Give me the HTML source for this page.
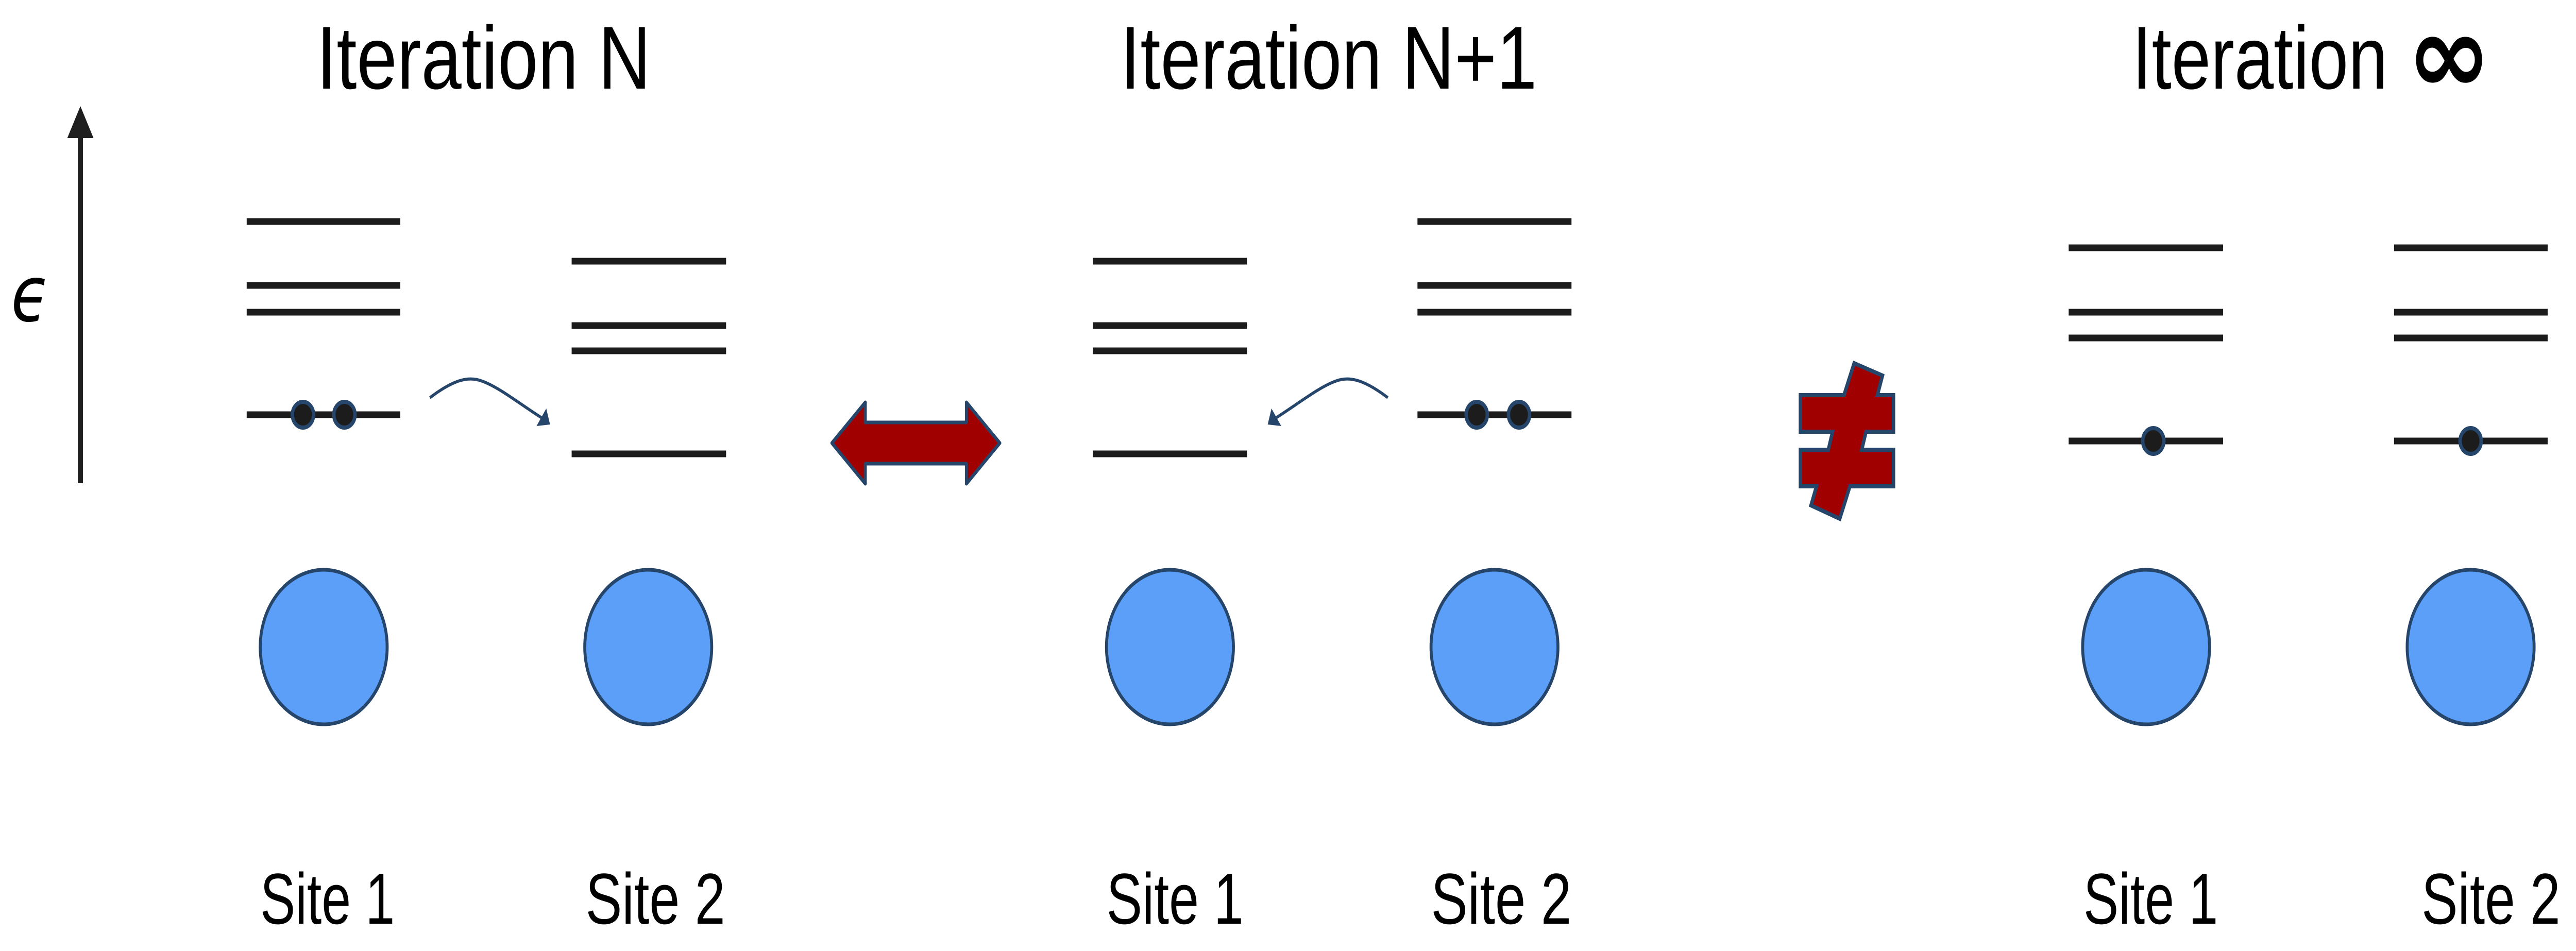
<!DOCTYPE html>
<html>
<head>
<meta charset="utf-8">
<style>
html,body{margin:0;padding:0;background:#fff;width:100%;height:100%;overflow:hidden;}
svg{display:block;width:100vw;height:100vh;}
</style>
</head>
<body>
<svg viewBox="0 0 6088 1846" preserveAspectRatio="none" xmlns="http://www.w3.org/2000/svg">
<rect width="6088" height="1846" fill="#fff"/>

<!-- Titles -->
<g font-family="Liberation Sans, sans-serif" font-size="173" fill="#000">
  <text x="1143" y="172" text-anchor="middle" textLength="790" lengthAdjust="spacingAndGlyphs">Iteration N</text>
  <text x="3140" y="172" text-anchor="middle" textLength="985" lengthAdjust="spacingAndGlyphs">Iteration N+1</text>
  <text x="5341" y="172" text-anchor="middle" textLength="604" lengthAdjust="spacingAndGlyphs">Iteration</text>
</g>
<text x="5788" y="180" text-anchor="middle" font-family="DejaVu Sans, sans-serif" font-weight="bold" font-size="215" textLength="200" lengthAdjust="spacingAndGlyphs" fill="#000">∞</text>

<!-- Energy axis -->
<line x1="190" y1="262" x2="190" y2="938" stroke="#1f1f1f" stroke-width="12"/>
<polygon points="190,206 159,268 221,268" fill="#1f1f1f"/>
<text x="26" y="623" font-family="DejaVu Sans, sans-serif" font-style="italic" font-size="150" fill="#000">ϵ</text>

<!-- Level lines -->
<g stroke="#1c1c1c" stroke-width="13">
  <line x1="583" y1="430" x2="946" y2="430"/>
  <line x1="583" y1="554" x2="946" y2="554"/>
  <line x1="583" y1="606" x2="946" y2="606"/>
  <line x1="583" y1="805" x2="946" y2="805"/>
  <line x1="1351" y1="507" x2="1716" y2="507"/>
  <line x1="1351" y1="632" x2="1716" y2="632"/>
  <line x1="1351" y1="681" x2="1716" y2="681"/>
  <line x1="1351" y1="881" x2="1716" y2="881"/>
  <line x1="2583" y1="507" x2="2947" y2="507"/>
  <line x1="2583" y1="632" x2="2947" y2="632"/>
  <line x1="2583" y1="681" x2="2947" y2="681"/>
  <line x1="2583" y1="881" x2="2947" y2="881"/>
  <line x1="3350" y1="430" x2="3714" y2="430"/>
  <line x1="3350" y1="554" x2="3714" y2="554"/>
  <line x1="3350" y1="606" x2="3714" y2="606"/>
  <line x1="3350" y1="805" x2="3714" y2="805"/>
  <line x1="4889" y1="481" x2="5254" y2="481"/>
  <line x1="4889" y1="606" x2="5254" y2="606"/>
  <line x1="4889" y1="656" x2="5254" y2="656"/>
  <line x1="4889" y1="856" x2="5254" y2="856"/>
  <line x1="5658" y1="481" x2="6021" y2="481"/>
  <line x1="5658" y1="606" x2="6021" y2="606"/>
  <line x1="5658" y1="656" x2="6021" y2="656"/>
  <line x1="5658" y1="856" x2="6021" y2="856"/>
</g>

<!-- Electrons -->
<g fill="#1c1c1c" stroke="#26456b" stroke-width="8">
  <circle cx="716" cy="805" r="25"/>
  <circle cx="814" cy="805" r="25"/>
  <circle cx="3490" cy="805" r="25"/>
  <circle cx="3590" cy="805" r="25"/>
  <circle cx="5089" cy="856" r="25"/>
  <circle cx="5839" cy="856" r="25"/>
</g>

<!-- Hopping arrows -->
<g fill="none" stroke="#26456b" stroke-width="6">
  <path d="M1016,772 C1075,735 1110,730 1140,740 C1180,752 1230,785 1282,812"/>
  <path d="M3280,772 C3221,735 3186,730 3156,740 C3116,752 3066,785 3014,812"/>
</g>
<g fill="#26456b">
  <polygon points="1300,824 1291,793 1268,827"/>
  <polygon points="2996,824 3005,793 3028,827"/>
</g>

<!-- Double arrow -->
<polygon points="1966,860 2045,781 2045,820 2284,820 2284,781 2363,860 2284,939 2284,900 2045,900 2045,939"
  fill="#a00000" stroke="#26456b" stroke-width="7" stroke-linejoin="round"/>

<!-- Not-equal sign -->
<polygon points="4382,705 4449,729 4437,767 4475,767 4475,838 4410,838 4400,873 4475,873 4475,944 4372,944 4348,1007 4280,981 4293,944 4255,944 4255,873 4321,873 4331,838 4255,838 4255,767 4358,767"
  fill="#a00000" stroke="#26456b" stroke-width="8" stroke-linejoin="miter"/>

<!-- Site circles -->
<g fill="#5b9ff9" stroke="#26456b" stroke-width="7">
  <circle cx="765" cy="1256" r="150"/>
  <circle cx="1532" cy="1256" r="150"/>
  <circle cx="2765" cy="1256" r="150"/>
  <circle cx="3532" cy="1256" r="150"/>
  <circle cx="5072" cy="1256" r="150"/>
  <circle cx="5839" cy="1256" r="150"/>
</g>

<!-- Site labels -->
<g font-family="Liberation Sans, sans-serif" font-size="140" fill="#000" text-anchor="middle">
  <text x="774" y="1793" textLength="318" lengthAdjust="spacingAndGlyphs">Site 1</text>
  <text x="1549" y="1793" textLength="330" lengthAdjust="spacingAndGlyphs">Site 2</text>
  <text x="2777" y="1793" textLength="324" lengthAdjust="spacingAndGlyphs">Site 1</text>
  <text x="3548" y="1793" textLength="332" lengthAdjust="spacingAndGlyphs">Site 2</text>
  <text x="5083" y="1793" textLength="318" lengthAdjust="spacingAndGlyphs">Site 1</text>
  <text x="5887" y="1793" textLength="328" lengthAdjust="spacingAndGlyphs">Site 2</text>
</g>
</svg>
</body>
</html>
